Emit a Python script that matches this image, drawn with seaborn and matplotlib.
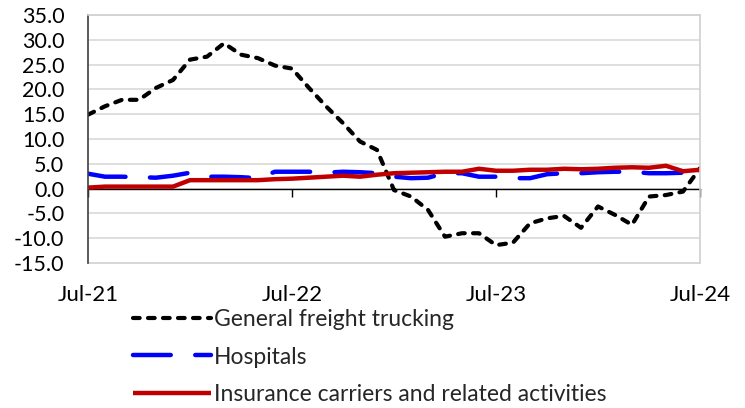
import numpy as np
import pandas as pd
import matplotlib
matplotlib.use("Agg")
import matplotlib.pyplot as plt
import seaborn as sns
from matplotlib.ticker import FormatStrFormatter

sns.set_theme(style="white")
plt.rcParams['font.family'] = ['Lato', 'DejaVu Sans']

months = list(range(37))
tick_pos = [0, 12, 24, 36]
tick_labels = ["Jul-21", "Jul-22", "Jul-23", "Jul-24"]

trucking = [14.9, 16.6, 17.9, 17.9, 20.3, 21.9, 26.0, 26.6, 29.3, 27.0, 26.3, 24.8,
            24.2, 20.3, 16.6, 13.2, 9.5, 7.8, -0.3, -1.6, -4.3, -9.7, -9.0, -9.0,
            -11.4, -10.9, -7.0, -6.0, -5.5, -7.9, -3.6, -5.3, -7.3, -1.6, -1.3, -0.6, 4.1]
hospitals = [3.0, 2.4, 2.4, 2.3, 2.2, 2.6, 3.2, 2.4, 2.4, 2.3, 2.1, 3.4,
             3.4, 3.4, 3.2, 3.4, 3.3, 3.1, 2.4, 2.1, 2.2, 3.1, 3.1, 2.4,
             2.4, 2.1, 2.1, 2.9, 3.1, 3.1, 3.3, 3.4, 3.4, 3.1, 3.1, 3.2, 3.6]
insurance = [0.2, 0.4, 0.4, 0.4, 0.4, 0.4, 1.7, 1.7, 1.7, 1.7, 1.7, 1.9,
             2.0, 2.2, 2.4, 2.6, 2.4, 2.8, 3.1, 3.2, 3.3, 3.4, 3.4, 4.0,
             3.6, 3.6, 3.8, 3.8, 4.0, 3.9, 4.0, 4.2, 4.3, 4.2, 4.6, 3.5, 3.8]

names = ["General freight trucking", "Hospitals", "Insurance carriers and related activities"]
colors = ["#000000", "#0000FF", "#C00000"]

df = pd.DataFrame({"month": months, names[0]: trucking, names[1]: hospitals, names[2]: insurance})

fig = plt.figure(figsize=(7.45, 4.08), dpi=100)
ax = fig.add_axes([88/745, 1-263/408, (700-88)/745, (263-15)/408])

lines = []
for name, col in zip(names, colors):
    sns.lineplot(data=df, x="month", y=name, ax=ax, color=col, label=name, legend=False)
    lines.append(ax.lines[-1])

lines[0].set_linewidth(3.0)
lines[0].set_dashes((1.6, 2.0))
lines[0].set_dash_capstyle('round')
lines[1].set_linewidth(3.2)
lines[1].set_dashes((8.5, 5.5))
lines[1].set_dash_capstyle('round')
lines[2].set_linewidth(3.2)
lines[2].set_solid_capstyle('butt')

ax.set_xlim(0, 36)
ax.set_ylim(-15, 35)
ax.set_yticks(np.arange(-15, 35.1, 5))
ax.yaxis.set_major_formatter(FormatStrFormatter('%.1f'))
ax.grid(axis='y', color='#d9d9d9', linewidth=1.2)
ax.set_axisbelow(True)
ax.set_xlabel("")
ax.set_ylabel("")
ax.tick_params(axis='y', length=0, pad=17, labelsize=15.5, colors='black')

# main x axis drawn at zero
ax.spines['bottom'].set_position(('data', 0))
ax.spines['bottom'].set_color('black')
ax.spines['bottom'].set_linewidth(1.0)
ax.spines['bottom'].set_zorder(1)
ax.set_xticks(tick_pos)
ax.tick_params(axis='x', direction='out', length=6, width=1, colors='black', labelbottom=False, bottom=True)
ax.spines['left'].set_color('#404040')
ax.spines['left'].set_linewidth(1.2)
for s in ['top', 'right']:
    ax.spines[s].set_color('#d0d0d0')
    ax.spines[s].set_linewidth(1.2)

# bottom labels and light frame line
sec = ax.secondary_xaxis(0)
sec.set_xticks(tick_pos)
sec.set_xticklabels(tick_labels)
sec.tick_params(length=0, pad=16, labelsize=16, colors='black')
sec.spines['bottom'].set_color('#d0d0d0')
sec.spines['bottom'].set_linewidth(1.2)

fig.legend(handles=lines, labels=names, loc='upper left',
           bbox_to_anchor=(133/745, 1-309/408), frameon=False, fontsize=16.5,
           handlelength=3.4, handletextpad=0.15, labelspacing=0.72,
           borderpad=0, borderaxespad=0)

fig.savefig("out.png", dpi=100)
